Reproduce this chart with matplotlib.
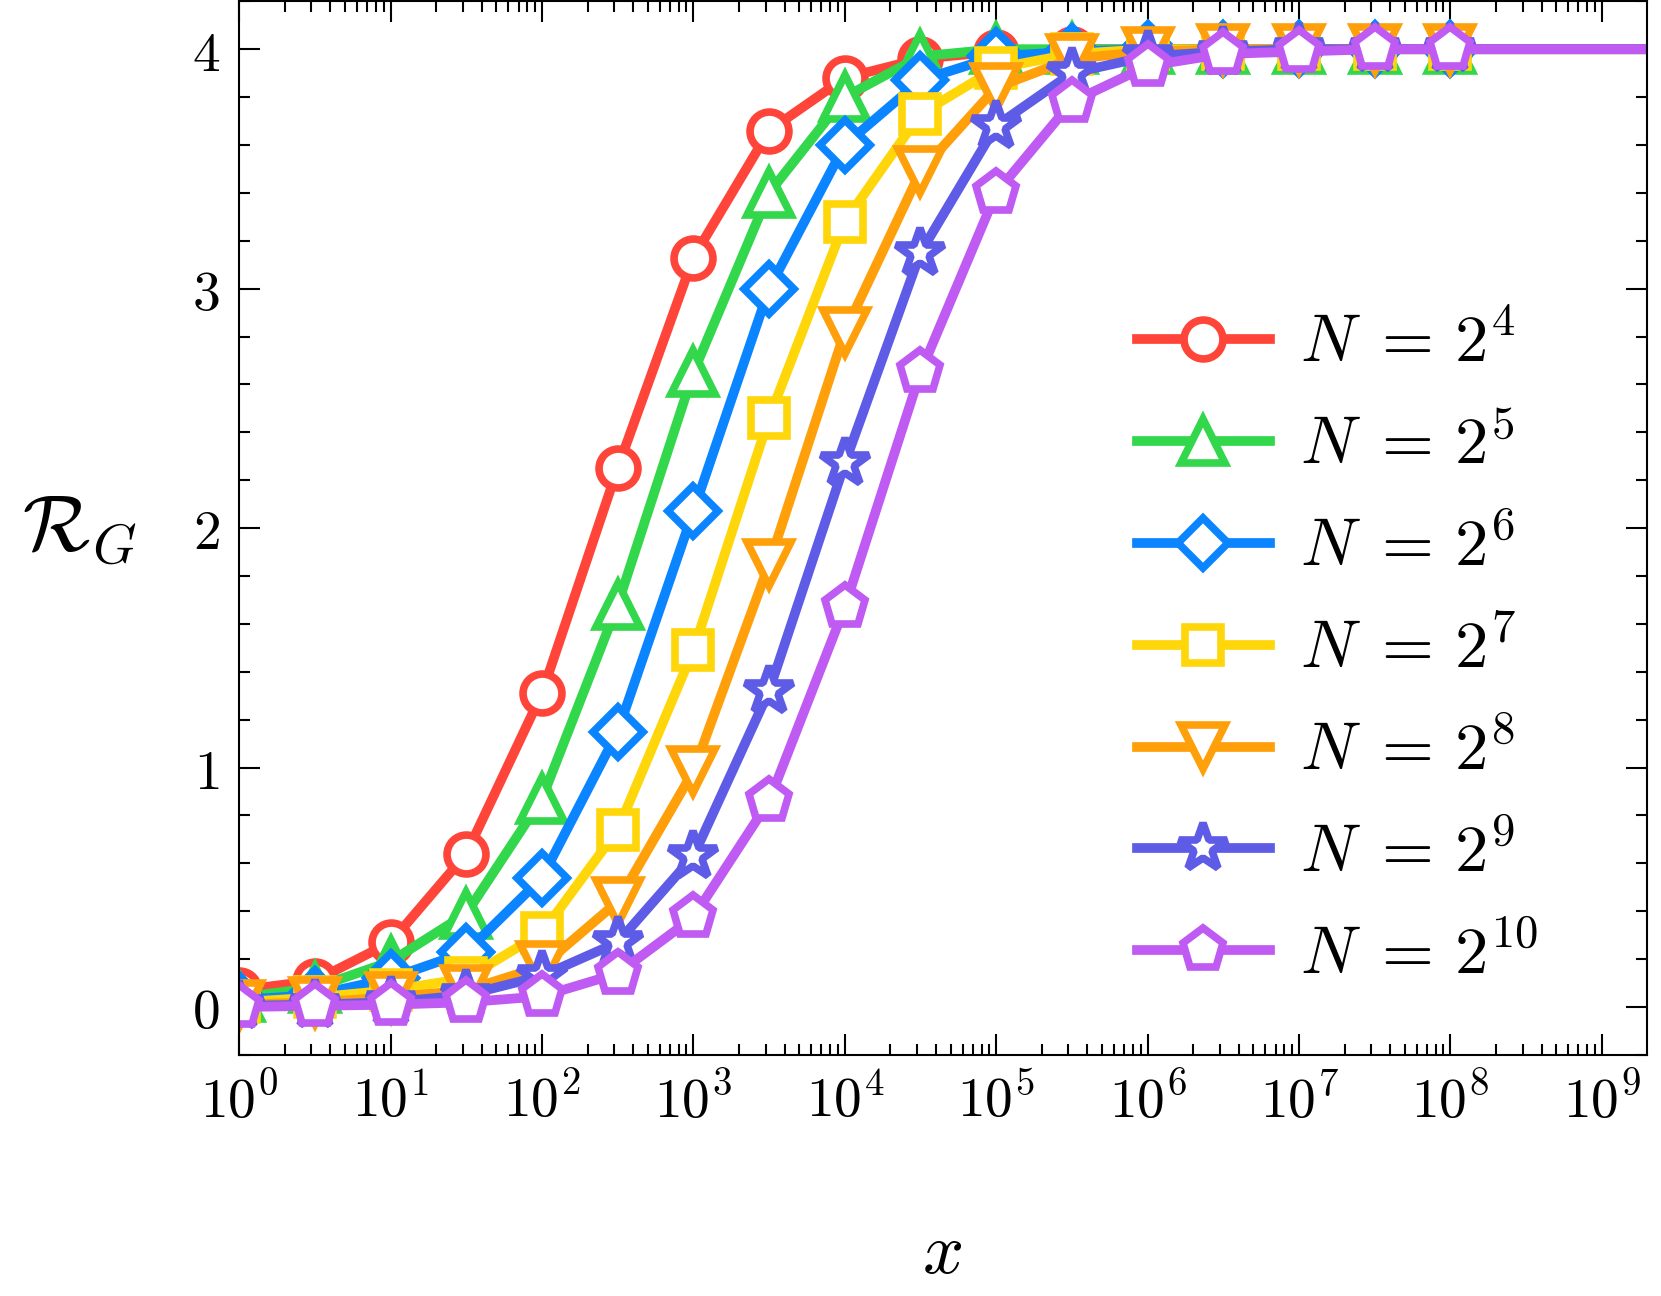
import math
import matplotlib
matplotlib.use('Agg')
import matplotlib.pyplot as plt
from matplotlib.ticker import FuncFormatter, MultipleLocator, LogLocator, NullFormatter

plt.rcParams['mathtext.fontset'] = 'cm'
plt.rcParams['font.family'] = 'DejaVu Serif'

# dados (x em escala log, pontos a cada meia década)
x_exp = [0, 0.5, 1, 1.5, 2, 2.5, 3, 3.5, 4, 4.5, 5, 5.5, 6, 6.5, 7, 7.5, 8]
x = [10 ** e for e in x_exp]

r_n4 = [0.07, 0.11, 0.27, 0.64, 1.31, 2.25, 3.13, 3.66, 3.88, 3.96, 3.99, 4.0, 4.0, 4.0, 4.0, 4.0, 4.0]
r_n5 = [0.04, 0.08, 0.19, 0.39, 0.87, 1.68, 2.65, 3.40, 3.80, 3.97, 4.0, 4.0, 4.0, 4.0, 4.0, 4.0, 4.0]
r_n6 = [0.03, 0.05, 0.12, 0.23, 0.54, 1.15, 2.07, 3.00, 3.60, 3.87, 3.97, 3.99, 4.0, 4.0, 4.0, 4.0, 4.0]
r_n7 = [0.02, 0.04, 0.07, 0.12, 0.31, 0.74, 1.49, 2.46, 3.28, 3.73, 3.92, 3.98, 4.0, 4.0, 4.0, 4.0, 4.0]
r_n8 = [0.01, 0.02, 0.04, 0.07, 0.17, 0.44, 0.985, 1.85, 2.82, 3.49, 3.84, 3.96, 3.99, 4.0, 4.0, 4.0, 4.0]
r_n9 = [0.005, 0.01, 0.02, 0.05, 0.13, 0.27, 0.63, 1.32, 2.27, 3.15, 3.68, 3.90, 3.97, 3.99, 4.0, 4.0, 4.0]
r_n10 = [0.0, 0.005, 0.01, 0.02, 0.045, 0.14, 0.375, 0.86, 1.67, 2.65, 3.40, 3.78, 3.93, 3.98, 3.99, 4.0, 4.0]

# valor assintótico usado para estender a linha até a borda direita
x_tail = 10 ** 9.5
r_tail = 4.0

series = [r_n4, r_n5, r_n6, r_n7, r_n8, r_n9, r_n10]
labels = [r'$N\;=\,2^{4}$', r'$N\;=\,2^{5}$', r'$N\;=\,2^{6}$', r'$N\;=\,2^{7}$',
          r'$N\;=\,2^{8}$', r'$N\;=\,2^{9}$', r'$N\;=\,2^{10}$']
colors = ['#FF453A', '#32D74B', '#0A84FF', '#FFD60A', '#FF9F0A', '#5E5CE6', '#BF5AF2']
markers = ['o', '^', 'D', 's', 'v', '*', 'p']
msizes = [28, 31, 25, 26, 31, 36, 31]

fig = plt.figure(figsize=(16.61, 12.96), dpi=100)
ax = fig.add_axes([0.144, 0.186, 0.8477, 0.813])

for ys, lab, c, m, ms in zip(series, labels, colors, markers, msizes):
    ax.plot(x + [x_tail], ys + [r_tail], color=c, lw=7, marker=m, ms=ms,
            mfc='white', mec=c, mew=5.5, markevery=list(range(len(x))), label=lab)

ax.set_xscale('log')
ax.set_xlim(1, 10 ** 9.3)
ax.set_ylim(-0.2, 4.2)

ax.xaxis.set_major_locator(LogLocator(base=10, numticks=20))
ax.xaxis.set_minor_locator(LogLocator(base=10, subs=range(2, 10), numticks=20))
ax.xaxis.set_minor_formatter(NullFormatter())
ax.xaxis.set_major_formatter(FuncFormatter(lambda v, p: r'$10^{%d}$' % round(math.log10(v))))
ax.yaxis.set_major_locator(MultipleLocator(1))
ax.yaxis.set_minor_locator(MultipleLocator(0.2))
ax.yaxis.set_major_formatter(FuncFormatter(lambda v, p: r'$%d$' % round(v)))

ax.tick_params(which='both', direction='in', top=True, right=True, width=1.5, labelsize=40)
ax.tick_params(which='major', length=15, pad=14)
ax.tick_params(which='minor', length=8)
for s in ax.spines.values():
    s.set_linewidth(1.5)

fig.text(0.048, 0.592, r'$\mathcal{R}_G$', fontsize=57, ha='center', va='center')
fig.text(0.567, 0.033, r'$x$', fontsize=52, ha='center', va='center')

ax.legend(loc='center right', bbox_to_anchor=(0.965, 0.385), frameon=False, fontsize=48,
          handlelength=2.0, handletextpad=0.45, labelspacing=0.55)

fig.savefig('out.png', dpi=100)
